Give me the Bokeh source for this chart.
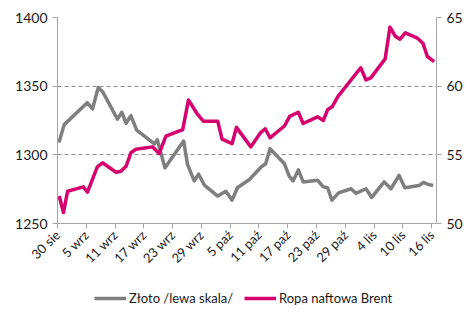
import math
from bokeh.plotting import figure
from bokeh.models import (Range1d, LinearAxis, FixedTicker, Legend, LegendItem)
from bokeh.layouts import column
from bokeh.embed import file_html
from bokeh.resources import INLINE

# Gold (left axis), day offset from 30 Aug
gold_days = [0.3, 1.4, 6.2, 7.3, 8.5, 9.4, 12.5, 13.4, 14.3, 15.3, 16.5, 20.2, 20.8, 22.4,
             23.9, 26.3, 27.1, 28.5, 29.4, 30.6, 33.4, 35.1, 36.4, 37.5, 40.0, 42.4, 43.4,
             44.3, 47.3, 48.3, 49.1, 50.2, 51.2, 54.2, 55.4, 56.3, 57.2, 58.6, 61.2, 62.2,
             64.3, 65.5, 68.1, 69.5, 71.2, 72.4, 75.4, 76.3, 77.3, 78.3]
gold_vals = [1309, 1322, 1338, 1333.5, 1349, 1346, 1326, 1331, 1323, 1328.5, 1318, 1308, 1311,
             1290.5, 1298, 1310, 1293, 1281, 1286, 1278, 1270, 1273.5, 1267, 1276, 1282, 1291,
             1293.5, 1304.5, 1293.5, 1284.5, 1281, 1289, 1280.3, 1281.5, 1276.7, 1276, 1267,
             1272.3, 1275.3, 1272, 1275.3, 1269, 1280.3, 1275.3, 1285, 1276, 1277.7, 1280,
             1278.4, 1277.7]

# Brent (right axis)
brent_days = [0.35, 1.25, 2.1, 5.4, 6.25, 8.3, 9.4, 12.2, 13.2, 14.3, 15.3, 16.3, 19.8, 21.2,
              22.6, 26.1, 27.3, 29.2, 30.4, 33.4, 34.3, 36.4, 37.3, 40.3, 42.3, 43.3, 44.3,
              47.3, 48.4, 50.2, 51.2, 54.2, 55.4, 56.3, 57.3, 58.4, 63.2, 64.3, 65.3, 68.3,
              69.3, 70.4, 71.4, 72.5, 75.0, 76.2, 77.1, 78.5]
brent_vals = [52.0, 50.8, 52.35, 52.67, 52.28, 54.13, 54.42, 53.73, 53.8, 54.17, 55.15, 55.4,
              55.58, 55.1, 56.36, 56.84, 59.0, 57.94, 57.45, 57.45, 56.15, 55.82, 57.0, 55.58,
              56.6, 56.9, 56.24, 57.1, 57.8, 58.1, 57.28, 57.77, 57.5, 58.28, 58.52, 59.22,
              61.34, 60.45, 60.6, 61.99, 64.3, 63.64, 63.42, 63.88, 63.5, 63.1, 62.16, 61.79]

tick_days = [0, 6, 12, 18, 24, 30, 36, 42, 48, 54, 60, 66, 72, 78]
tick_labels = ["30 sie", "5 wrz", "11 wrz", "17 wrz", "23 wrz", "29 wrz", "5 paź",
               "11 paź", "17 paź", "23 paź", "29 paź", "4 lis", "10 lis", "16 lis"]
left_ticks = [1250, 1300, 1350, 1400]
right_ticks = [50, 55, 60, 65]
series_names = ["Złoto /lewa skala/", "Ropa naftowa Brent"]

GRAY = "#7f7f7f"
MAGENTA = "#d6006f"
AXIS = "#a6a6a6"
TXT = "#1a1a1a"
FONT = "Lato"
LEFT_B, RIGHT_B, FRAME_W = 57, 25, 379

p = figure(frame_width=FRAME_W, frame_height=206, output_backend="svg", toolbar_location=None,
           x_range=Range1d(0, 79), y_range=Range1d(1250, 1400),
           min_border_left=LEFT_B, min_border_right=RIGHT_B, min_border_top=17,
           min_border_bottom=0)
p.outline_line_color = None
p.extra_y_ranges = {"brent": Range1d(50, 65)}

p.xgrid.visible = False
p.ygrid.ticker = FixedTicker(ticks=left_ticks)
p.ygrid.grid_line_color = "#8c8c8c"
p.ygrid.grid_line_dash = "4 3"

xa = p.xaxis[0]
xa.ticker = FixedTicker(ticks=tick_days, minor_ticks=[])
xa.major_label_overrides = {d: l for d, l in zip(tick_days, tick_labels)}
xa.major_label_orientation = math.pi / 4
xa.axis_line_color = AXIS
xa.major_tick_line_color = AXIS
xa.major_tick_out = 5
xa.major_tick_in = 0
xa.minor_tick_line_color = None
xa.major_label_text_font = FONT
xa.major_label_text_font_size = "13px"
xa.major_label_text_color = TXT
xa.major_label_standoff = 4

ya = p.yaxis[0]
ya.ticker = FixedTicker(ticks=left_ticks, minor_ticks=[])
ya.axis_line_color = AXIS
ya.major_tick_line_color = AXIS
ya.major_tick_out = 5
ya.major_tick_in = 0
ya.minor_tick_line_color = None
ya.major_label_text_font = FONT
ya.major_label_text_font_size = "14px"
ya.major_label_text_color = TXT
ya.major_label_standoff = 5

ra = LinearAxis(y_range_name="brent", ticker=FixedTicker(ticks=right_ticks, minor_ticks=[]))
ra.axis_line_color = AXIS
ra.major_tick_line_color = AXIS
ra.major_tick_out = 5
ra.major_tick_in = 0
ra.minor_tick_line_color = None
ra.major_label_text_font = FONT
ra.major_label_text_font_size = "14px"
ra.major_label_text_color = TXT
ra.major_label_standoff = 5
p.add_layout(ra, "right")

p.line(gold_days, gold_vals, line_color=GRAY, line_width=3.5, line_join="round")
p.line(brent_days, brent_vals, line_color=MAGENTA, line_width=3.5, line_join="round",
       y_range_name="brent")

# legend strip below the chart
p2 = figure(frame_width=FRAME_W, frame_height=40, output_backend="svg", toolbar_location=None,
            x_range=p.x_range, y_range=Range1d(0, 1),
            min_border_left=LEFT_B, min_border_right=RIGHT_B, min_border_top=0,
            min_border_bottom=0)
p2.axis.visible = False
p2.grid.visible = False
p2.outline_line_color = None
lg_g = p2.line(gold_days, gold_vals, line_color=GRAY, line_width=3.5, visible=False)
lg_b = p2.line(brent_days, brent_vals, line_color=MAGENTA, line_width=3.5, visible=False)

def mk_legend(r, label, loc):
    return Legend(items=[LegendItem(label=label, renderers=[r])], location=loc,
                  orientation="horizontal", border_line_color=None, background_fill_alpha=0,
                  inactive_fill_alpha=0, padding=0, margin=0, glyph_width=32,
                  glyph_height=14, label_standoff=3, label_text_font=FONT,
                  label_text_font_size="13px", label_text_color=TXT, label_height=14)

p2.add_layout(mk_legend(lg_g, series_names[0], (37, 8)))
p2.add_layout(mk_legend(lg_b, series_names[1], (187, 8)))

layout = column(p, p2, spacing=0)
open("out.html", "w").write(file_html(layout, INLINE))
